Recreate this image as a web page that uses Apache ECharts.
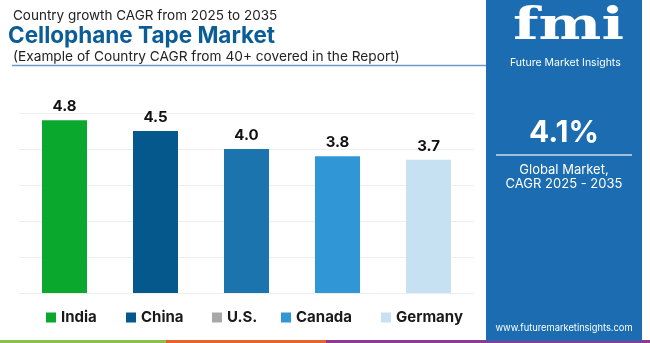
<!DOCTYPE html>
<html>
<head>
<meta charset="utf-8">
<script src="https://cdn.jsdelivr.net/npm/echarts@6/dist/echarts.min.js"></script>
<style>html,body{margin:0;padding:0;background:#fff}#c{width:650px;height:343px}</style>
</head>
<body>
<div id="c"></div>
<script>
const categories = ['India', 'China', 'U.S.', 'Canada', 'Germany'];
const values = [4.8, 4.5, 4.0, 3.8, 3.7];
const barColors = ['#0ba82e', '#05588c', '#1b74ad', '#3196d6', '#c5e1f2'];
const legendColors = ['#0ba82e', '#05588c', '#a8a8a8', '#3196d6', '#c5e1f2'];
const legendLefts = [46, 126, 212, 281, 381];
const yTicks = [0, 1, 2, 3, 4, 5];

const FONT = 'Inter, "Open Sans", sans-serif';
const chart = echarts.init(document.getElementById('c'), null, {renderer: 'canvas'});

const series = categories.map((name, i) => ({
  name: name,
  type: 'bar',
  barWidth: 45,
  barGap: '-100%',
  itemStyle: {color: barColors[i]},
  label: {show: true, position: 'top', distance: 6, color: '#111', fontFamily: FONT, fontWeight: 'bold', fontSize: 15,
          formatter: p => p.value.toFixed(1)},
  data: categories.map((c, j) => j === i ? values[i] : null)
}));

const legends = categories.map((name, i) => ({
  left: legendLefts[i], top: 310, padding: 0, itemWidth: 10, itemHeight: 10, itemGap: 5,
  icon: 'rect', selectedMode: false,
  textStyle: {fontFamily: FONT, fontWeight: 'bold', fontSize: 15, color: '#1a1a1a'},
  data: [{name: name, itemStyle: {color: legendColors[i]}}]
}));

chart.setOption({
  animation: false,
  title: [
    {text: 'Country growth CAGR from 2025 to 2035', left: 13, top: 9, padding: 0,
     textStyle: {fontFamily: FONT, fontWeight: 'normal', fontSize: 13.5, color: '#222'}},
    {text: 'Cellophane Tape Market', left: 8, top: 25, padding: 0,
     textStyle: {fontFamily: FONT, fontWeight: 'bold', fontSize: 22.5, color: '#0b5d98'}},
    {text: '(Example of Country CAGR from 40+ covered in the Report)', left: 13, top: 50, padding: 0,
     textStyle: {fontFamily: FONT, fontWeight: 'normal', fontSize: 13.7, color: '#222'}}
  ],
  legend: legends,
  grid: {left: 19, right: 176, top: 113, bottom: 50},
  xAxis: {type: 'category', data: categories, axisLine: {show: false}, axisTick: {show: false}, axisLabel: {show: false}},
  yAxis: {type: 'value', min: yTicks[0], max: yTicks[yTicks.length - 1], interval: 1,
          axisLabel: {show: false}, axisLine: {show: false}, axisTick: {show: false},
          splitLine: {lineStyle: {color: '#eeeeee', width: 1}}},
  series: series,
  graphic: [
    {type: 'line', shape: {x1: 12, y1: 65.5, x2: 486, y2: 65.5}, style: {stroke: '#6b9cc8', lineWidth: 1.5}},
    {type: 'rect', shape: {x: 0, y: 340, width: 166, height: 3}, style: {fill: '#8bc14a'}},
    {type: 'rect', shape: {x: 166, y: 340, width: 160, height: 3}, style: {fill: '#e5632e'}},
    {type: 'rect', shape: {x: 326, y: 340, width: 324, height: 3}, style: {fill: '#8c3b95'}},
    {type: 'rect', shape: {x: 486, y: 0, width: 156, height: 341}, style: {fill: '#1b6cb0'}},
    {type: 'text', left: 513, top: 6, style: {text: 'fmi', fill: '#ffffff', font: 'bold 44px "DejaVu Serif", serif'}, scaleX: 1.35},
    {type: 'text', left: 510, top: 57, style: {text: 'Future Market Insights', fill: '#ffffff', font: '10.5px ' + FONT}},
    {type: 'text', x: 564, y: 133, style: {text: '4.1%', fill: '#ffffff', font: 'bold 30px ' + FONT, textAlign: 'center', textVerticalAlign: 'middle'}},
    {type: 'line', shape: {x1: 496, y1: 155, x2: 632, y2: 155}, style: {stroke: '#c9dcee', lineWidth: 1.5}},
    {type: 'text', x: 564, y: 170, style: {text: 'Global Market,', fill: '#ffffff', font: '13px ' + FONT, textAlign: 'center', textVerticalAlign: 'middle'}},
    {type: 'text', x: 564, y: 184, style: {text: 'CAGR 2025 - 2035', fill: '#ffffff', font: '13px ' + FONT, textAlign: 'center', textVerticalAlign: 'middle'}},
    {type: 'text', x: 564, y: 328, style: {text: 'www.futuremarketinsights.com', fill: '#ffffff', font: '9.3px ' + FONT, textAlign: 'center', textVerticalAlign: 'middle'}}
  ]
});
</script>
</body>
</html>
